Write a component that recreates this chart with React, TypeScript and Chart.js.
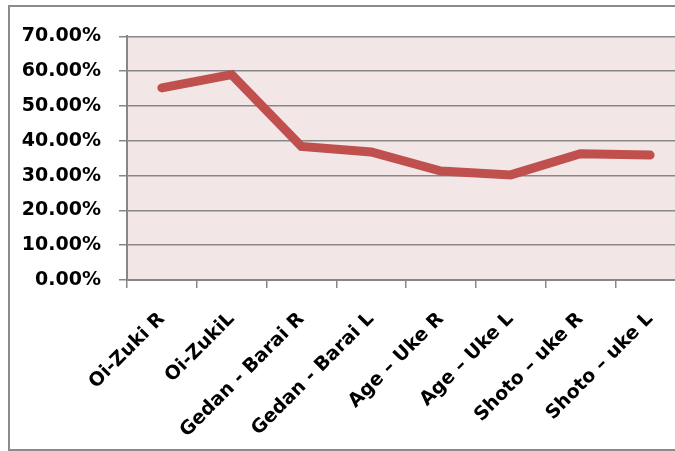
import React, { useEffect, useRef } from 'react';
import { Chart, registerables } from 'chart.js';

Chart.register(...registerables);

// Technique labels along the x axis
const categories: string[] = [
  'Oi-Zuki R',
  'Oi-ZukiL',
  'Gedan - Barai R',
  'Gedan - Barai L',
  'Age – Uke R',
  'Age – Uke L',
  'Shoto – uke R',
  'Shoto – uke L',
];

// Percentage per technique
const values: number[] = [55.2, 59.0, 38.4, 36.8, 31.3, 30.2, 36.3, 35.9];

// Value axis range (percent)
const yMin = 0;
const yMax = 70;
const yStep = 10;

const LINE_COLOR = '#c0504d';
const PLOT_BG = '#f2e6e6';
const GRID_COLOR = '#878787';
const LABEL_FONT = { family: 'DejaVu Sans', weight: 'bold' as const, size: 19 };

const plotBackground = {
  id: 'plotBackground',
  beforeDraw(chart: Chart) {
    const { ctx, chartArea } = chart;
    if (!chartArea) return;
    ctx.save();
    ctx.fillStyle = PLOT_BG;
    ctx.fillRect(chartArea.left, chartArea.top, chartArea.right - chartArea.left, chartArea.bottom - chartArea.top);
    ctx.restore();
  },
};

const CANVAS_W = 700;
const CANVAS_H = 442;

export default function App() {
  const canvasRef = useRef<HTMLCanvasElement | null>(null);

  useEffect(() => {
    if (!canvasRef.current) return;
    const chart = new Chart(canvasRef.current, {
      type: 'line',
      data: {
        labels: categories,
        datasets: [
          {
            data: values,
            borderColor: LINE_COLOR,
            backgroundColor: LINE_COLOR,
            borderWidth: 9,
            borderCapStyle: 'round',
            borderJoinStyle: 'miter',
            pointRadius: 0,
            pointHoverRadius: 0,
            tension: 0,
            fill: false,
          },
        ],
      },
      options: {
        responsive: false,
        animation: false,
        devicePixelRatio: 1,
        layout: { padding: { left: 0, top: 26, right: 25, bottom: 0 } },
        plugins: {
          legend: { display: false },
          tooltip: { enabled: false },
          title: { display: false },
        },
        scales: {
          x: {
            type: 'category',
            offset: true,
            afterFit(scale: any) {
              scale.height = 169;
            },
            grid: {
              display: true,
              drawOnChartArea: false,
              drawTicks: true,
              tickLength: 8,
              offset: true,
              color: GRID_COLOR,
              lineWidth: 1.5,
            },
            border: { display: true, color: GRID_COLOR, width: 2 },
            ticks: {
              autoSkip: false,
              minRotation: 45,
              maxRotation: 45,
              padding: 20,
              labelOffset: 0,
              color: '#000',
              font: LABEL_FONT,
            },
          },
          y: {
            min: yMin,
            max: yMax,
            afterFit(scale: any) {
              scale.width = 117;
            },
            grid: {
              color: GRID_COLOR,
              lineWidth: 1.5,
              drawTicks: true,
              tickLength: 8,
            },
            border: { display: true, color: GRID_COLOR, width: 2 },
            ticks: {
              stepSize: yStep,
              padding: 18,
              color: '#000',
              font: LABEL_FONT,
              callback: (v: any) => Number(v).toFixed(2) + '%',
            },
          },
        },
      },
      plugins: [plotBackground],
    });
    return () => chart.destroy();
  }, []);

  return (
    <div
      style={{
        position: 'fixed',
        left: 0,
        top: 0,
        width: 675,
        height: 451,
        overflow: 'hidden',
        background: '#fff',
      }}
    >
      <div
        style={{
          position: 'absolute',
          left: 8,
          top: 5,
          width: CANVAS_W,
          height: CANVAS_H,
          borderTop: '2px solid #8c8c8c',
          borderLeft: '2px solid #8c8c8c',
          borderBottom: '2px solid #8c8c8c',
        }}
      >
        <canvas
          ref={canvasRef}
          width={CANVAS_W}
          height={CANVAS_H}
          style={{ display: 'block', width: CANVAS_W, height: CANVAS_H }}
        />
      </div>
    </div>
  );
}
